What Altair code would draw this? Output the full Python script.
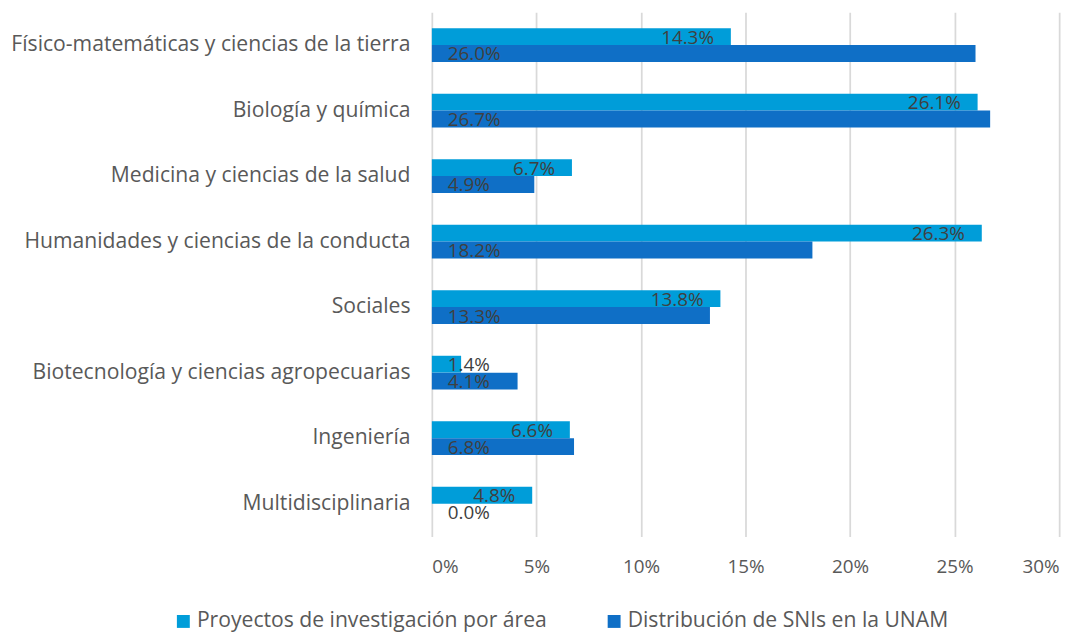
import altair as alt
import pandas as pd

categories = [
    "Físico-matemáticas y ciencias de la tierra",
    "Biología y química",
    "Medicina y ciencias de la salud",
    "Humanidades y ciencias de la conducta",
    "Sociales",
    "Biotecnología y ciencias agropecuarias",
    "Ingeniería",
    "Multidisciplinaria",
]
series = ["Proyectos de investigación por área", "Distribución de SNIs en la UNAM"]
proyectos = [14.3, 26.1, 6.7, 26.3, 13.8, 1.4, 6.6, 4.8]
snis = [26.0, 26.7, 4.9, 18.2, 13.3, 4.1, 6.8, 0.0]
colors = ["#009DD9", "#0F6FC6"]
x_ticks = [0, 0.05, 0.10, 0.15, 0.20, 0.25, 0.30]

rows = []
for c, p, s in zip(categories, proyectos, snis):
    rows.append({"cat": c, "serie": series[0], "v": p / 100, "lbl": f"{p:.1f}%"})
    rows.append({"cat": c, "serie": series[1], "v": s / 100, "lbl": f"{s:.1f}%"})
df = pd.DataFrame(rows)

FONT = "Open Sans"
FS_CAT = 21.3
FS_NUM = 19
TXT = "#404040"
GREY = "#595959"

y_enc = alt.Y("cat:N", sort=categories, title=None,
              scale=alt.Scale(paddingInner=0.485, paddingOuter=0.2425),
              axis=alt.Axis(labelFont=FONT, labelFontSize=FS_CAT, labelColor=GREY,
                            labelPadding=22, ticks=False, domain=False, labelLimit=500))
yoff = alt.YOffset("serie:N", sort=series)
x_enc = alt.X("v:Q", title=None,
              scale=alt.Scale(domain=[0, 0.30], nice=False),
              axis=alt.Axis(values=x_ticks, format=".0%", labelFont=FONT, labelFontSize=FS_NUM,
                            labelColor=GREY, labelPadding=21, ticks=False, domain=False,
                            grid=True, gridColor="#D9D9D9", gridWidth=1.75))

bars = alt.Chart(df).mark_bar().encode(
    y=y_enc, yOffset=yoff, x=x_enc,
    color=alt.Color("serie:N", sort=series,
                    scale=alt.Scale(domain=series, range=colors),
                    legend=alt.Legend(title=None, orient="none", direction="horizontal",
                                      legendX=-261, legendY=603,
                                      labelFont=FONT, labelFontSize=FS_CAT, labelColor=GREY,
                                      symbolType="square", symbolSize=169, symbolStrokeWidth=0,
                                      columnPadding=57, labelOffset=3, padding=0,
                                      labelLimit=600)),
)

base_txt = alt.Chart(df).encode(
    y=alt.Y("cat:N", sort=categories), yOffset=yoff, text="lbl:N"
)

light_big = base_txt.transform_filter(
    (alt.datum.serie == series[0]) & (alt.datum.v >= 0.03)
).mark_text(align="right", baseline="middle", dx=-17, dy=1,
            font=FONT, fontSize=FS_NUM, color=TXT).encode(x="v:Q")

light_small = base_txt.transform_filter(
    (alt.datum.serie == series[0]) & (alt.datum.v < 0.03)
).mark_text(align="left", baseline="middle", dx=16, dy=1,
            font=FONT, fontSize=FS_NUM, color=TXT).encode(x=alt.datum(0))

dark = base_txt.transform_filter(
    alt.datum.serie == series[1]
).mark_text(align="left", baseline="middle", dx=16, dy=1,
            font=FONT, fontSize=FS_NUM, color=TXT).encode(x=alt.datum(0))

chart = alt.layer(bars, light_big, light_small, dark).properties(
    width=632, height=528,
    autosize=alt.AutoSizeParams(type="none"),
    padding={"left": 427, "top": 2, "right": 21, "bottom": 100},
).configure_view(stroke=None)

chart.save("out.html", embed_options={"renderer": "svg", "actions": False})
